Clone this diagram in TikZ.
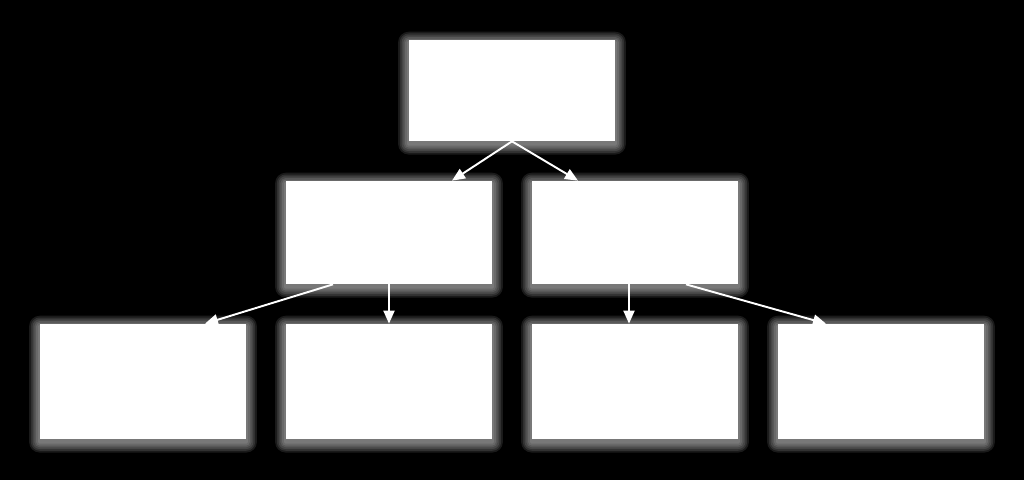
\documentclass[tikz,border=0pt]{standalone}
\usetikzlibrary{positioning,arrows.meta,backgrounds}
\tikzset{
    block/.style={fill=white, minimum width=4.12cm, inner sep=0pt},
    halo/.style={fill=white, opacity=0.1},
    link/.style={white, line width=1.1pt, -{Triangle[length=0.26cm,width=0.22cm]}}
}
\begin{document}
\begin{tikzpicture}
    \useasboundingbox (0,0) rectangle (20.48,9.6);
    %Top
    \node[block, minimum height=2.02cm] (top) at (10.24,7.79) {};
    %Middle
    \node[block, minimum height=2.06cm] (midl) at (7.78,4.95) {};
    \node[block, minimum height=2.06cm] (midr) at (12.7,4.95) {};
    %Bottom
    \node[block, minimum height=2.3cm] (bota) at (2.86,1.97) {};
    \node[block, minimum height=2.3cm] (botb) at (7.78,1.97) {};
    \node[block, minimum height=2.3cm] (botc) at (12.7,1.97) {};
    \node[block, minimum height=2.3cm] (botd) at (17.62,1.97) {};
    %Background and glow
    \begin{scope}[on background layer]
        \fill[black] (0,0) rectangle (20.48,9.6);
        \foreach \n in {top,midl,midr,bota,botb,botc,botd}
            \foreach \s in {1,2,3,4,5,6}
                \fill[halo, rounded corners=\s pt]
                    ([shift={(-\s pt,-\s pt-1.5pt)}]\n.south west)
                    rectangle ([shift={(\s pt,\s pt-1.5pt)}]\n.north east);
    \end{scope}
    %Arrows
    \draw[link] (top.south) -- ([xshift=1.26cm]midl.north);
    \draw[link] (top.south) -- ([xshift=-1.14cm]midr.north);
    \draw[link] ([xshift=-1.12cm]midl.south) -- ([xshift=1.24cm]bota.north);
    \draw[link] (midl.south) -- (botb.north);
    \draw[link] ([xshift=-0.12cm]midr.south) -- ([xshift=-0.12cm]botc.north);
    \draw[link] ([xshift=1.02cm]midr.south) -- ([xshift=-1.1cm]botd.north);
\end{tikzpicture}
\end{document}
